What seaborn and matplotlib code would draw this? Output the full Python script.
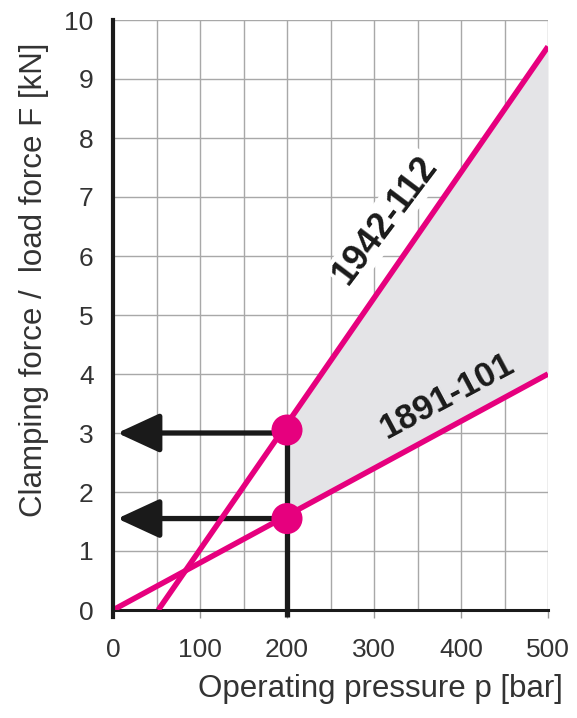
import numpy as np
import pandas as pd
import matplotlib
matplotlib.use("Agg")
import matplotlib.pyplot as plt
import seaborn as sns

# ---- data ----
pressure_1891 = [0, 500]
force_1891 = [0.0, 4.0]
pressure_1942 = [52, 500]
force_1942 = [0.0, 9.55]
op_pressure = 200
op_forces = [3.05, 1.55]          # 1942-112, 1891-101 at 200 bar
arrow_levels = [3.0, 1.55]
x_ticks = [0, 100, 200, 300, 400, 500]
y_ticks = list(range(0, 11))
series_labels = ["1942-112", "1891-101"]

sns.set_theme(style="white")
plt.rcParams["font.family"] = ["Liberation Sans", "DejaVu Sans"]

PINK = "#e6007e"
TXT = "#333333"
SHADE = "#e4e4e7"

fig = plt.figure(figsize=(5.77, 7.18), dpi=100)
ax = fig.add_axes([113 / 577, 1 - 610 / 718, 435 / 577, 590 / 718])

ax.set_xlim(0, 500)
ax.set_ylim(0, 10)

# grid
ax.set_xticks(np.arange(0, 501, 50), minor=True)
ax.set_xticks(x_ticks)
ax.set_yticks(y_ticks)
ax.grid(True, which="both", axis="x", color="#a8a8a8", lw=1.0, zorder=0)
ax.grid(True, which="major", axis="y", color="#a8a8a8", lw=1.0, zorder=0)
ax.set_axisbelow(True)

# shaded area between lines from 200 bar
xs = np.array([op_pressure, 500])
lo = np.interp(xs, pressure_1891, force_1891)
hi = np.interp(xs, pressure_1942, force_1942)
ax.fill_between(xs, lo, hi, color=SHADE, lw=0, zorder=1)

# black guide lines / arrows
ax.plot([op_pressure, op_pressure], [-0.12, op_forces[0]], color="#1a1a1a", lw=3.8,
        solid_capstyle="butt", zorder=3, clip_on=False)
for yv in arrow_levels:
    ax.annotate("", xy=(5, yv), xytext=(op_pressure, yv),
                arrowprops=dict(arrowstyle="-|>,head_length=1.3,head_width=0.6",
                                mutation_scale=20, lw=3.8, color="#1a1a1a",
                                shrinkA=0, shrinkB=0),
                zorder=3)

# pink lines
df1 = pd.DataFrame({"p": pressure_1891, "F": force_1891})
df2 = pd.DataFrame({"p": pressure_1942, "F": force_1942})
sns.lineplot(data=df1, x="p", y="F", color=PINK, lw=4.0, ax=ax, zorder=4)
sns.lineplot(data=df2, x="p", y="F", color=PINK, lw=4.0, ax=ax, zorder=4)
for l in ax.lines:
    if l.get_color() == PINK:
        l.set_solid_capstyle("butt")

# operating points
dfp = pd.DataFrame({"p": [op_pressure] * len(op_forces), "F": op_forces})
sns.scatterplot(data=dfp, x="p", y="F", color=PINK, s=500, edgecolor="none",
                ax=ax, zorder=5)

# series labels
ax.text(313, 6.6, series_labels[0], rotation=53, ha="center", va="center",
        fontsize=26, fontweight="bold", color="#1a1a1a", zorder=6,
        bbox=dict(facecolor="white", edgecolor="none", pad=1.5))
ax.text(384, 3.62, series_labels[1], rotation=28, ha="center", va="center",
        fontsize=25, fontweight="bold", color="#1a1a1a", zorder=6,
        bbox=dict(facecolor=SHADE, edgecolor="none", pad=1.5))

# spines
sns.despine(ax=ax, top=True, right=True)
ax.spines["left"].set_color("#1a1a1a")
ax.spines["left"].set_linewidth(3.0)
ax.spines["left"].set_bounds(-0.12, 10)
ax.spines["bottom"].set_color("#1a1a1a")
ax.spines["bottom"].set_linewidth(2.2)
ax.spines["left"].set_zorder(6)

ax.tick_params(axis="x", which="major", bottom=True, length=6, width=1,
               color="#999999", direction="out", pad=14, labelsize=19,
               labelcolor=TXT)
ax.tick_params(axis="x", which="minor", bottom=False, length=0)
ax.tick_params(axis="y", left=False, length=0, pad=14, labelsize=19,
               labelcolor=TXT)

ax.set_xlabel("Operating pressure p [bar]", fontsize=22.5, color=TXT)
ax.set_ylabel("Clamping force /  load force F [kN]", fontsize=22.5, color=TXT)
ax.xaxis.set_label_coords(0.615, -0.108)
ax.yaxis.set_label_coords(-0.148, 0.56)

fig.savefig("out.png", dpi=100)
